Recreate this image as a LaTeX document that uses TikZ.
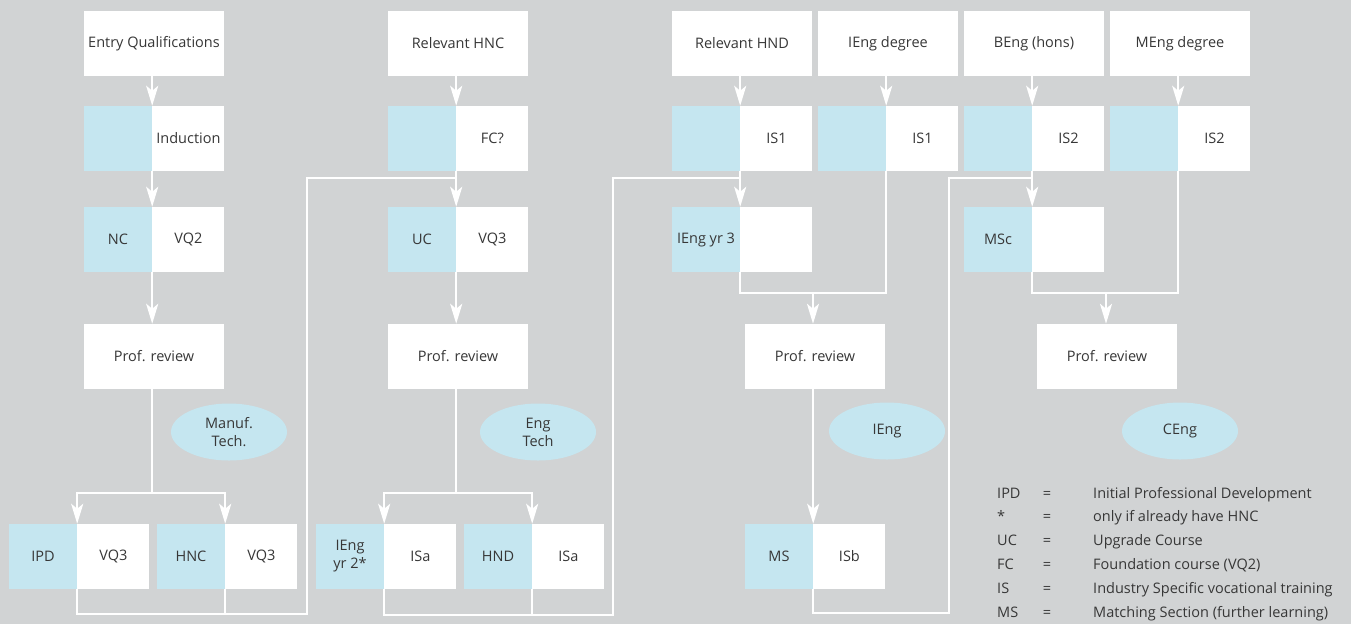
\documentclass[tikz,border=0pt]{standalone}
\usepackage{fontspec}
\setmainfont{Open Sans}
\usetikzlibrary{positioning,arrows.meta,shapes.geometric}
\definecolor{bggrey}{RGB}{209,211,212}
\definecolor{lblue}{RGB}{197,230,240}
\definecolor{txtgrey}{RGB}{55,55,55}
\tikzset{
  fullbox/.style={rectangle,fill=white,minimum width=140pt,minimum height=65pt,inner sep=0pt},
  bluehalf/.style={rectangle,fill=lblue,minimum width=68pt,minimum height=65pt,inner sep=0pt,align=center},
  whitehalf/.style={rectangle,fill=white,minimum width=72pt,minimum height=65pt,inner sep=0pt},
  award/.style={ellipse,fill=lblue,minimum width=116pt,minimum height=57pt,inner sep=0pt,align=center},
  link/.style={draw=white,line width=2.5pt},
  arr/.style={link,-{Stealth[length=20pt,width=12pt,inset=5pt]}},
}
\begin{document}
\begin{tikzpicture}[x=1pt,y=-1pt,font=\fontsize{14.5}{18}\selectfont,text=txtgrey]
\fill[bggrey] (0,0) rectangle (1351,624);
\useasboundingbox (0,0) rectangle (1351,624);
% column 1
\node[fullbox] (eq) at (154,43.5) {Entry Qualifications};
\node[bluehalf] (ind-l) at (118,138.5) {};
\node[whitehalf,right=0pt of ind-l] (ind-r) {Induction};
\node[bluehalf] (nc-l) at (118,239.5) {NC};
\node[whitehalf,right=0pt of nc-l] (nc-r) {VQ2};
\node[fullbox] (pr1) at (154,356.5) {Prof. review};
\node[award] (mt) at (229,432) {Manuf.\\Tech.};
\node[bluehalf] (ipd-l) at (43,556.5) {IPD};
\node[whitehalf,right=0pt of ipd-l] (ipd-r) {VQ3};
\node[bluehalf] (hnc-l) at (191,556.5) {HNC};
\node[whitehalf,right=0pt of hnc-l] (hnc-r) {VQ3};
% column 2
\node[fullbox] (rhnc) at (458,43.5) {Relevant HNC};
\node[bluehalf] (fc-l) at (422,138.5) {};
\node[whitehalf,right=0pt of fc-l] (fc-r) {FC?};
\node[bluehalf] (uc-l) at (422,239.5) {UC};
\node[whitehalf,right=0pt of uc-l] (uc-r) {VQ3};
\node[fullbox] (pr2) at (458,356.5) {Prof. review};
\node[award] (et) at (538,432) {Eng\\Tech};
\node[bluehalf] (ie2-l) at (350,556.5) {IEng\\yr 2*};
\node[whitehalf,right=0pt of ie2-l] (ie2-r) {ISa};
\node[bluehalf] (hnd-l) at (498,556.5) {HND};
\node[whitehalf,right=0pt of hnd-l] (hnd-r) {ISa};
% column 3
\node[fullbox] (rhnd) at (742,43.5) {Relevant HND};
\node[fullbox] (ideg) at (888,43.5) {IEng degree};
\node[bluehalf] (is1a-l) at (706,138.5) {};
\node[whitehalf,right=0pt of is1a-l] (is1a-r) {IS1};
\node[bluehalf] (is1b-l) at (852,138.5) {};
\node[whitehalf,right=0pt of is1b-l] (is1b-r) {IS1};
\node[bluehalf] (ie3-l) at (706,239.5) {IEng yr 3};
\node[whitehalf,right=0pt of ie3-l] (ie3-r) {};
\node[fullbox] (pr3) at (815,356.5) {Prof. review};
\node[award] (ie) at (887,431) {IEng};
\node[bluehalf] (ms-l) at (779,556.5) {MS};
\node[whitehalf,right=0pt of ms-l] (ms-r) {ISb};
% column 4
\node[fullbox] (beng) at (1034,43.5) {BEng (hons)};
\node[fullbox] (meng) at (1180,43.5) {MEng degree};
\node[bluehalf] (is2a-l) at (998,138.5) {};
\node[whitehalf,right=0pt of is2a-l] (is2a-r) {IS2};
\node[bluehalf] (is2b-l) at (1144,138.5) {};
\node[whitehalf,right=0pt of is2b-l] (is2b-r) {IS2};
\node[bluehalf] (msc-l) at (998,239.5) {MSc};
\node[whitehalf,right=0pt of msc-l] (msc-r) {};
\node[fullbox] (pr4) at (1107,356.5) {Prof. review};
\node[award] (ce) at (1180,431) {CEng};
% connectors
\coordinate (b1) at (152,493);
\coordinate (c1) at (307,614);
\coordinate (t1) at (456,178);
\coordinate (b2) at (456,493);
\coordinate (c2) at (613,615);
\coordinate (t2) at (740,178);
\coordinate (j3) at (813,293);
\coordinate (c3) at (949,613);
\coordinate (t3) at (1032,178);
\coordinate (j4) at (1106,293);
\draw[arr] (eq.south -| ind-l.east) -- (ind-l.north east);
\draw[arr] (ind-l.south east) -- (nc-l.north east);
\draw[arr] (nc-l.south east) -- (pr1.north -| nc-l.east);
\draw[link] (pr1.south -| b1) -- (b1);
\draw[arr] (b1) -| (ipd-l.north east);
\draw[arr] (b1) -| (hnc-l.north east);
\draw[link] (ipd-l.south east) |- (c1) |- (t1);
\draw[link] (hnc-l.south east) -- (hnc-l.east |- c1);
\draw[arr] (rhnc.south -| fc-l.east) -- (fc-l.north east);
\draw[arr] (fc-l.south east) -- (uc-l.north east);
\draw[arr] (uc-l.south east) -- (pr2.north -| uc-l.east);
\draw[link] (pr2.south -| b2) -- (b2);
\draw[arr] (b2) -| (ie2-l.north east);
\draw[arr] (b2) -| (hnd-l.north east);
\draw[link] (ie2-l.south east) |- (c2) |- (t2);
\draw[link] (hnd-l.south east) -- (hnd-l.east |- c2);
\draw[arr] (rhnd.south -| is1a-l.east) -- (is1a-l.north east);
\draw[arr] (ideg.south -| is1b-l.east) -- (is1b-l.north east);
\draw[arr] (is1a-l.south east) -- (ie3-l.north east);
\draw[link] (ie3-l.south east) |- (j3) -| (is1b-l.south east);
\draw[arr] (j3) -- (pr3.north -| j3);
\draw[arr] (pr3.south -| ms-l.east) -- (ms-l.north east);
\draw[link] (ms-l.south east) |- (c3) |- (t3);
\draw[arr] (beng.south -| is2a-l.east) -- (is2a-l.north east);
\draw[arr] (meng.south -| is2b-l.east) -- (is2b-l.north east);
\draw[arr] (is2a-l.south east) -- (msc-l.north east);
\draw[link] (msc-l.south east) |- (j4) -| (is2b-l.south east);
\draw[arr] (j4) -- (pr4.north -| j4);
% key
\foreach \abbr/\lgdesc [count=\i] in {IPD/Initial Professional Development,
  */only if already have HNC, UC/Upgrade Course, FC/Foundation course (VQ2),
  IS/Industry Specific vocational training, MS/Matching Section (further learning)}{
  \node[anchor=base west,inner sep=0pt] (key\i) at (997,{498+23.8*(\i-1)}) {\abbr};
  \node[anchor=base,inner sep=0pt] (eqs\i) at (1047,{498+23.8*(\i-1)}) {=};
  \node[anchor=base west,inner sep=0pt] (desc\i) at (1093,{498+23.8*(\i-1)}) {\lgdesc};
}
\end{tikzpicture}
\end{document}
